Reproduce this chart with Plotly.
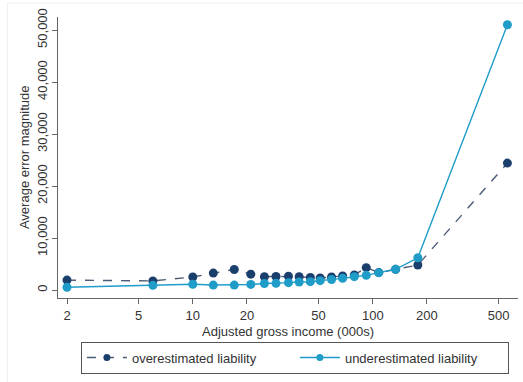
import plotly.graph_objects as go

income = [2, 6, 10, 13, 17, 21, 25, 29, 34, 39, 45, 51, 59, 68, 79, 92, 108, 134, 178, 560]
overestimated = [1900, 1750, 2500, 3250, 3950, 3050, 2550, 2600, 2650, 2550, 2400, 2300, 2500, 2700, 2900, 4300, 3350, 3980, 4800, 24400]
underestimated = [520, 900, 1100, 950, 950, 1070, 1250, 1280, 1410, 1540, 1600, 1800, 2000, 2240, 2560, 2820, 3330, 3980, 6200, 51000]

x_ticks = [2, 5, 10, 20, 50, 100, 200, 500]
y_ticks = [0, 10000, 20000, 30000, 40000, 50000]
y_labels = ["0", "10,000", "20,000", "30,000", "40,000", "50,000"]

DARK = "#1b3f6d"
DARK_LINE = "#4b5b78"
LIGHT = "#1f9cc8"
FONT = "Liberation Sans, Arial, sans-serif"
TXT = "#333333"

fig = go.Figure()
fig.add_trace(go.Scatter(
    x=income, y=overestimated, mode="lines+markers",
    name="overestimated liability", showlegend=False,
    line=dict(color=DARK_LINE, width=1.4, dash="dash"),
    marker=dict(color=DARK, size=9),
))
fig.add_trace(go.Scatter(
    x=income, y=underestimated, mode="lines+markers",
    name="underestimated liability", showlegend=False,
    line=dict(color=LIGHT, width=1.4),
    marker=dict(color=LIGHT, size=9),
))
# legend entries (smaller symbol like the reference legend)
fig.add_trace(go.Scatter(
    x=[None], y=[None], mode="lines+markers",
    name="overestimated liability",
    line=dict(color=DARK_LINE, width=1.4, dash="dash"),
    marker=dict(color=DARK, size=7),
))
fig.add_trace(go.Scatter(
    x=[None], y=[None], mode="lines+markers",
    name="underestimated liability",
    line=dict(color=LIGHT, width=1.4),
    marker=dict(color=LIGHT, size=7),
))

fig.update_layout(
    width=523, height=382,
    margin=dict(l=58, r=5, t=17, b=84),
    paper_bgcolor="white", plot_bgcolor="white",
    font=dict(family=FONT, size=13, color=TXT),
    showlegend=True,
    legend=dict(
        orientation="h", x=0.515, xanchor="center", y=-0.155, yanchor="top",
        bordercolor="#555555", borderwidth=1,
        font=dict(size=13, color=TXT),
        itemwidth=40, entrywidth=158, tracegroupgap=0,
    ),
    xaxis=dict(
        type="log", range=[0.251, 2.807],
        tickvals=x_ticks, ticktext=[str(v) for v in x_ticks],
        showgrid=False, zeroline=False,
        showline=True, linecolor="#666666", linewidth=1,
        ticks="outside", ticklen=5, tickcolor="#666666",
    ),
    yaxis=dict(
        range=[-1538, 52500],
        tickvals=y_ticks, ticktext=y_labels, tickangle=-90,
        showgrid=False, zeroline=False,
        showline=True, linecolor="#666666", linewidth=1,
        ticks="outside", ticklen=5, tickcolor="#666666",
    ),
    annotations=[
        dict(text="Adjusted gross income (000s)", xref="paper", yref="paper",
             x=0.5, y=-0.087, xanchor="center", yanchor="top",
             showarrow=False, font=dict(size=13, color=TXT)),
        dict(text="Average error magnitude", xref="paper", yref="paper",
             x=-0.052, y=0.5, xanchor="right", yanchor="middle", textangle=-90,
             showarrow=False, font=dict(size=13, color=TXT)),
    ],
    shapes=[
        dict(type="line", xref="paper", yref="paper",
             x0=-0.11, x1=1.02, y0=1.05, y1=1.05,
             line=dict(color="#eeeeee", width=1)),
        dict(type="line", xref="paper", yref="paper",
             x0=-0.11, x1=-0.11, y0=1.05, y1=-0.3,
             line=dict(color="#eeeeee", width=1)),
    ],
)

fig.write_html("out.html")
